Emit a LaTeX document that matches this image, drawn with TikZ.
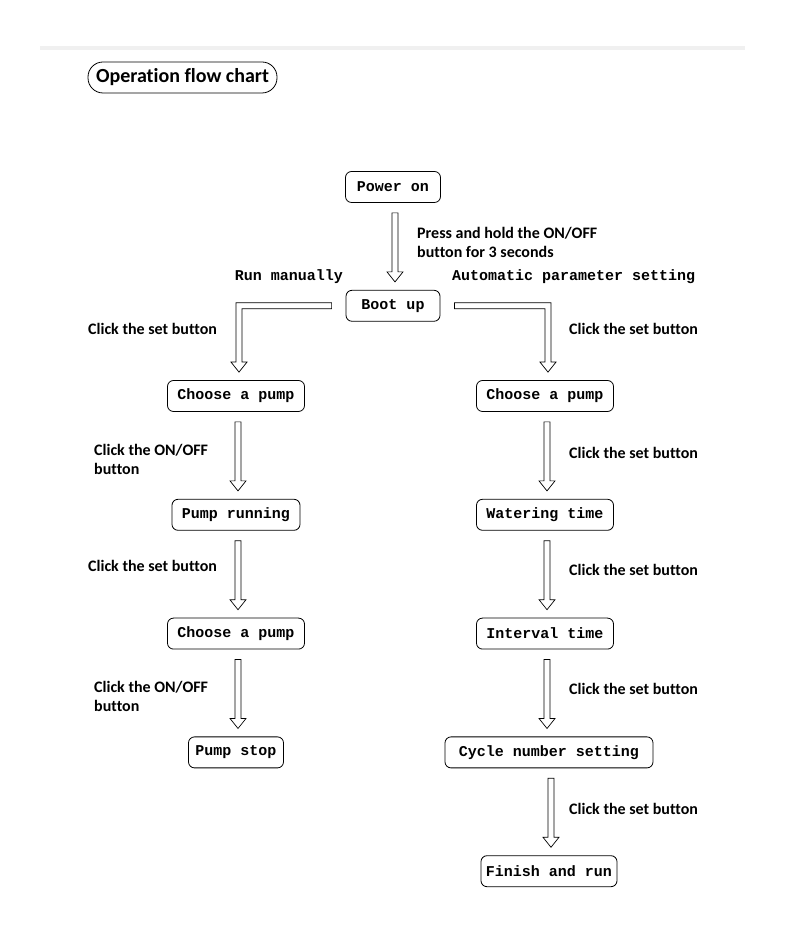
\documentclass[tikz,border=0pt]{standalone}
\usepackage{fontspec}
\setmainfont{Carlito}[Ligatures={NoCommon,NoContextual}]
\setmonofont{Liberation Mono}
\usepackage{tikz}
\usetikzlibrary{positioning,calc}
\tikzset{
	stage/.style = {
		draw, rounded corners=6pt, minimum height=31pt, inner xsep=10pt,
		line width=0.8pt, font=\fontsize{15}{18}\selectfont\ttfamily\bfseries
	}
}
\tikzset{
	note/.style = {
		align=left, inner sep=0pt, font=\fontsize{16}{19}\selectfont\bfseries
	}
}
\tikzset{
	branch/.style = {
		inner sep=0pt, font=\fontsize{15}{18}\selectfont\ttfamily\bfseries
	}
}
\tikzset{
	heading/.style = {
		draw, rounded corners=15pt, minimum width=189pt, minimum height=31pt,
		inner xsep=4pt, line width=0.8pt, font=\fontsize{20}{22}\selectfont\bfseries
	}
}
\tikzset{
	hollow/.style = {
		draw, line width=0.7pt, line join=miter
	}
}
% straight hollow arrow between two stages
\newcommand{\flowarrow}[2]{
	\draw[hollow] let \p1=($(#1.south)+(2pt,0)$), \p2=(#2.north) in
		(\x1-3pt,\y1-10pt) -- (\x1+3pt,\y1-10pt) -- (\x1+3pt,\y2+18pt)
		-- (\x1+8pt,\y2+18pt) -- (\x1,\y2+8pt) -- (\x1-8pt,\y2+18pt)
		-- (\x1-3pt,\y2+18pt) -- cycle;
}
% bent hollow arrow: start point, target stage, direction (-1 left, 1 right)
\newcommand{\elbowarrow}[3]{
	\draw[hollow] let \p1=(#1), \p2=($(#2.north)+(3pt,0)$) in
		(\x1,\y1+3pt) -- ({\x2+#3*3pt},\y1+3pt) -- ({\x2+#3*3pt},\y2+18pt)
		-- ({\x2+#3*8pt},\y2+18pt) -- (\x2,\y2+8pt) -- ({\x2-#3*8pt},\y2+18pt)
		-- ({\x2-#3*3pt},\y2+18pt) -- ({\x2-#3*3pt},\y1-3pt) -- (\x1,\y1-3pt) -- cycle;
}

\begin{document}
\begin{tikzpicture}[x=1pt, y=1pt, node distance=87pt]
	\useasboundingbox (0,0) rectangle (800,942);
	\fill[black!6] (40,892) rectangle (745,896);
	\node[heading](title) at (182.5,864.5){Operation flow chart};

	\node[stage, minimum width=95pt](power) at (393,755){Power on};
	\node[stage, minimum width=94pt, below=of power](boot){Boot up};

	% manual branch
	\node[stage](chooseL) at (236,546){Choose a pump};
	\node[stage, below=of chooseL](running){Pump running};
	\node[stage, below=of running](chooseLL){Choose a pump};
	\node[stage, inner xsep=7pt, below=of chooseLL](stop){Pump stop};

	% automatic branch
	\node[stage](chooseR) at (545,546){Choose a pump};
	\node[stage, below=of chooseR](watering){Watering time};
	\node[stage, below=of watering](interval){Interval time};
	\node[stage, minimum width=208pt, below=of interval, xshift=4pt](cycle){Cycle number setting};
	\node[stage, inner xsep=5pt, below=of cycle](finish){Finish and run};

	\node[branch, anchor=east](manual) at (343,665){Run manually};
	\node[branch, anchor=west](automatic) at (452,665){Automatic parameter setting};

	\node[note, anchor=west](hold) at (417,700){Press and hold the ON/OFF\\button for 3 seconds};
	\node[note, anchor=west](setL1) at (88,613){Click the set button};
	\node[note, anchor=west](onoffL1) at (94,482.5){Click the ON/OFF\\button};
	\node[note, anchor=west](setL2) at (88,376){Click the set button};
	\node[note, anchor=west](onoffL2) at (94,245.5){Click the ON/OFF\\button};
	\node[note, anchor=west](setR1) at (569,613){Click the set button};
	\node[note, anchor=west](setR2) at (569,489){Click the set button};
	\node[note, anchor=west](setR3) at (569,372){Click the set button};
	\node[note, anchor=west](setR4) at (569,253){Click the set button};
	\node[note, anchor=west](setR5) at (569,133){Click the set button};

	\flowarrow{power}{boot}
	\elbowarrow{$(boot.west)+(-14pt,0)$}{chooseL}{-1}
	\elbowarrow{$(boot.east)+(14pt,0)$}{chooseR}{1}
	\flowarrow{chooseL}{running}
	\flowarrow{running}{chooseLL}
	\flowarrow{chooseLL}{stop}
	\flowarrow{chooseR}{watering}
	\flowarrow{watering}{interval}
	\flowarrow{interval}{cycle}
	\flowarrow{cycle}{finish}
\end{tikzpicture}
\end{document}
